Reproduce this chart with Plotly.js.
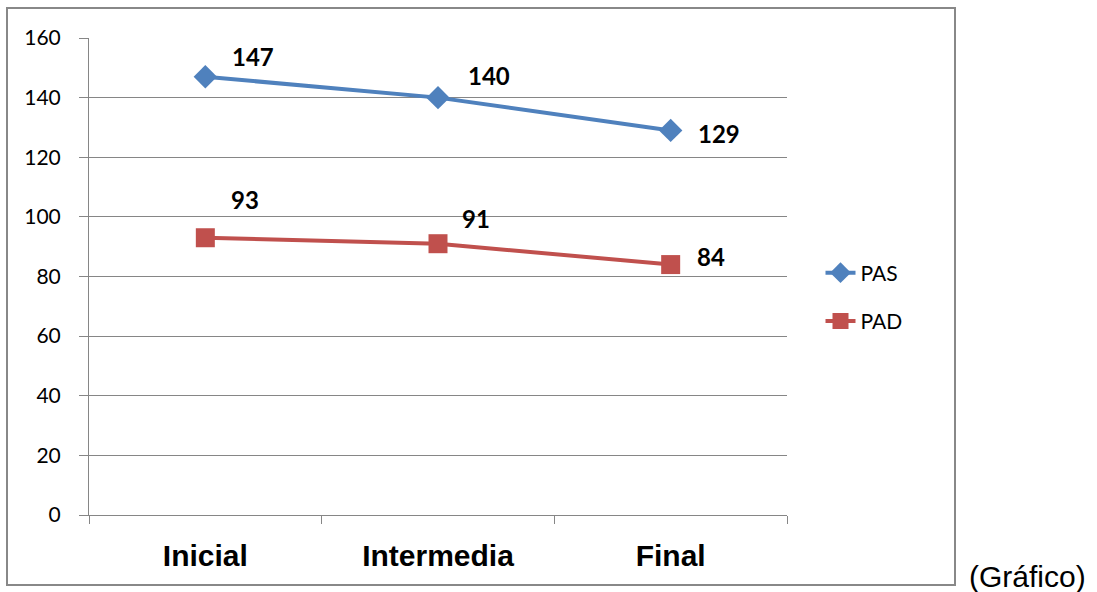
<!DOCTYPE html>
<html><head><meta charset="utf-8">
<script src="https://cdn.plot.ly/plotly-3.0.1.min.js"></script>
<style>html,body{margin:0;padding:0;background:#fff;}</style>
</head><body>
<div id="chart" style="width:1097px;height:592px;"></div>
<script>
const categories = ["Inicial", "Intermedia", "Final"];
const pasValues = [147, 140, 129];
const padValues = [93, 91, 84];
const seriesNames = ["PAS", "PAD"];
const yTicks = [0, 20, 40, 60, 80, 100, 120, 140, 160];

// label offsets in pixels (style only)
const pasShift = [[48, 20], [51, 22], [48, -3]];
const padShift = [[40, 38], [38, 25], [40, 8]];

const traces = [
  {x: categories, y: pasValues, name: seriesNames[0], type: "scatter", mode: "lines+markers",
   line: {color: "#4F81BD", width: 4}, marker: {symbol: "diamond", size: 18, color: "#4F81BD"},
   legendgroup: "a"},
  {x: categories, y: padValues, name: seriesNames[1], type: "scatter", mode: "lines+markers",
   line: {color: "#C0504D", width: 4}, marker: {symbol: "square", size: 19, color: "#C0504D"},
   legendgroup: "b"}
];

const annotations = [];
categories.forEach((c, i) => {
  annotations.push({x: c, y: pasValues[i], text: String(pasValues[i]), showarrow: false,
    xshift: pasShift[i][0], yshift: pasShift[i][1],
    font: {family: "Lato, 'Liberation Sans', sans-serif", size: 24, color: "#000", weight: "bold"}});
  annotations.push({x: c, y: padValues[i], text: String(padValues[i]), showarrow: false,
    xshift: padShift[i][0], yshift: padShift[i][1],
    font: {family: "Lato, 'Liberation Sans', sans-serif", size: 24, color: "#000", weight: "bold"}});
});
annotations.push({xref: "paper", yref: "paper", x: (1027 - 89) / 698, y: (515 - 576) / 477, text: "(Gráfico)", showarrow: false,
  xanchor: "center", yanchor: "middle",
  font: {family: "'Liberation Sans', Arial, sans-serif", size: 30, color: "#000"}});

const layout = {
  width: 1097, height: 592,
  margin: {l: 89, r: 310, t: 38, b: 77},
  paper_bgcolor: "#fff", plot_bgcolor: "#fff",
  showlegend: true,
  legend: {x: 1.048, y: 0.457, xanchor: "left", yanchor: "middle", traceorder: "grouped",
    tracegroupgap: 18, bgcolor: "rgba(0,0,0,0)",
    font: {family: "Lato, 'Liberation Sans', sans-serif", size: 21, color: "#000"}},
  xaxis: {type: "category", range: [-0.5, 2.5], showgrid: false, showline: true,
    linecolor: "#868686", linewidth: 1, ticks: "outside", ticklen: 8, tickcolor: "#868686",
    tickson: "boundaries", ticklabelstandoff: 14, zeroline: false,
    tickfont: {family: "'Liberation Sans', Arial, sans-serif", size: 30, color: "#000", weight: "bold"}},
  yaxis: {range: [0, 160], tickvals: yTicks, showgrid: true, gridcolor: "#868686", gridwidth: 1,
    showline: true, linecolor: "#868686", linewidth: 1, ticks: "outside", ticklen: 9,
    tickcolor: "#868686", zeroline: false, ticklabelstandoff: 14,
    tickfont: {family: "Lato, 'Liberation Sans', sans-serif", size: 21, color: "#000"}},
  annotations: annotations,
  shapes: [{type: "rect", xref: "paper", yref: "paper",
    x0: (7 - 89) / 698, x1: (955 - 89) / 698, y0: (515 - 585) / 477, y1: (515 - 8) / 477,
    line: {color: "#888888", width: 2}, fillcolor: "rgba(0,0,0,0)", layer: "below"}]
};

Plotly.newPlot("chart", traces, layout, {displayModeBar: false, staticPlot: true});
</script>
</body></html>
